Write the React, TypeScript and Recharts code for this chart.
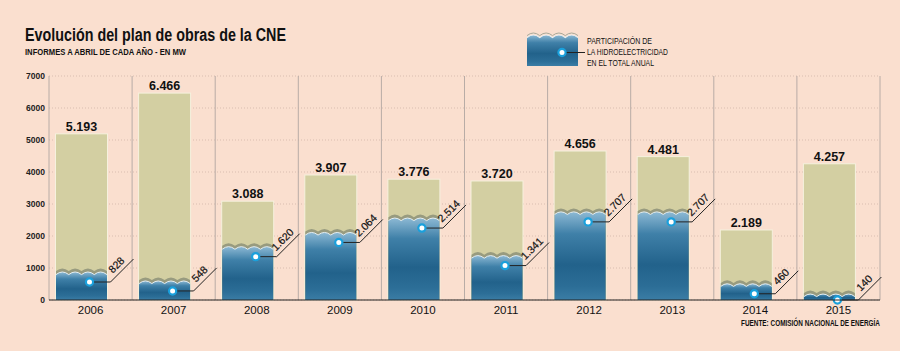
import React from 'react';
import { ComposedChart, Bar, XAxis, YAxis, CartesianGrid } from 'recharts';

const years = ['2006', '2007', '2008', '2009', '2010', '2011', '2012', '2013', '2014', '2015'];
const totals = [5193, 6466, 3088, 3907, 3776, 3720, 4656, 4481, 2189, 4257];
const hydro = [828, 548, 1620, 2064, 2514, 1341, 2707, 2707, 460, 140];
const yTicks = [0, 1000, 2000, 3000, 4000, 5000, 6000, 7000];

const data = years.map((year, i) => ({ year, total: totals[i], hydro: hydro[i] }));

const fmt = (v: number) =>
  v >= 1000 ? `${Math.floor(v / 1000)}.${String(v % 1000).padStart(3, '0')}` : String(v);

const FONT = "'Liberation Sans', Arial, sans-serif";
const BG = '#FADFCF';

const waveLine = (x0: number, w: number, top: number, amp: number, n = 4) => {
  const seg = w / n;
  let d = `M ${x0} ${top + amp}`;
  for (let i = 0; i < n; i++) {
    d += ` Q ${x0 + seg * i + seg / 2} ${top - amp} ${x0 + seg * (i + 1)} ${top + amp}`;
  }
  return d;
};
const wavePath = (x0: number, w: number, top: number, amp: number, bottom: number, n = 4) =>
  `${waveLine(x0, w, top, amp, n)} L ${x0 + w} ${bottom} L ${x0} ${bottom} Z`;

const BarShape = (props: any) => {
  const { x, y, width, height, payload } = props;
  if (!payload) return null;
  const bx = x - 9.5;
  const w = width;
  const base = y + height;
  const k = height / payload.total;
  const hy = base - payload.hydro * k;
  const amp = 2.6;
  const wt = hy - 1.5;
  const dotX = bx + w / 2 + 8;
  const dotY = Math.min(hy + 8.5, base);
  const lx = bx + w + 3;
  const diag = 23;
  const mx = lx + diag / 2 - 3;
  const my = dotY - diag / 2 - 3;
  return (
    <g>
      <rect x={bx} y={y} width={w} height={height} fill="#D3CFA2" stroke="#F6F1DE" strokeWidth={1} />
      <path d={wavePath(bx + 0.5, w - 1, wt - 3.5, amp, base)} fill="#989B7F" />
      <path d={wavePath(bx + 0.5, w - 1, wt, amp, base)} fill="url(#blueGrad)" />
      <path d={waveLine(bx + 0.5, w - 1, wt, amp)} fill="none" stroke="#E4EEF2" strokeWidth={1} />
      <path d={`M ${dotX} ${dotY} H ${lx} L ${lx + diag} ${dotY - diag}`} fill="none" stroke="#222" strokeWidth={1} />
      <circle cx={dotX} cy={dotY} r={3.6} fill="#fff" stroke="#1AA0DC" strokeWidth={2.2} />
      <text
        x={mx}
        y={my}
        transform={`rotate(-45 ${mx} ${my})`}
        textAnchor="middle"
        fontSize={10.5}
        fontFamily={FONT}
        fill="#111"
        stroke="#111"
        strokeWidth={0.2}
      >
        {fmt(payload.hydro)}
      </text>
      <text x={bx + w / 2} y={y - 3} textAnchor="middle" fontSize={12.5} fontWeight="bold" fontFamily={FONT} fill="#111">
        {fmt(payload.total)}
      </text>
    </g>
  );
};

export default function App() {
  return (
    <div style={{ position: 'fixed', left: 0, top: 0, width: 900, height: 351, background: BG, overflow: 'hidden' }}>
      <svg width={0} height={0} style={{ position: 'absolute' }}>
        <defs>
          <linearGradient id="blueGrad" x1="0" y1="0" x2="0" y2="1">
            <stop offset="0%" stopColor="#8DB9D4" />
            <stop offset="25%" stopColor="#3F80A8" />
            <stop offset="60%" stopColor="#22628B" />
            <stop offset="85%" stopColor="#2C6E97" />
            <stop offset="100%" stopColor="#3B7DA5" />
          </linearGradient>
        </defs>
      </svg>
      <ComposedChart width={900} height={351} data={data} margin={{ top: 76, right: 20, bottom: 21, left: 0 }}>
        <CartesianGrid vertical={false} stroke="#D9BDB0" strokeDasharray="1 2" />
        <CartesianGrid
          horizontal={false}
          stroke="#B8ACA6"
          verticalCoordinatesGenerator={({ offset }: any) =>
            Array.from({ length: years.length + 1 }, (_, i) => offset.left + (i * offset.width) / years.length)
          }
        />
        <XAxis
          dataKey="year"
          height={30}
          interval={0}
          axisLine={{ stroke: '#222' }}
          tickLine={false}
          tickSize={0}
          tickMargin={6}
          tick={{ fontSize: 11.5, fill: '#111', fontFamily: FONT }}
        />
        <YAxis
          width={49}
          domain={[0, 7000]}
          ticks={yTicks}
          interval={0}
          axisLine={false}
          tickLine={false}
          tickSize={0}
          tickMargin={4}
          tick={{ fontSize: 8.5, fill: '#222', fontWeight: 'bold', fontFamily: FONT }}
        />
        <Bar dataKey="total" barSize={52} shape={BarShape} isAnimationActive={false} />
      </ComposedChart>
      <svg width={900} height={351} style={{ position: 'absolute', left: 0, top: 0, pointerEvents: 'none' }}>
        <text x={25} y={40.5} fontSize={17.5} fontWeight="bold" fontFamily={FONT} fill="#111" textLength={261} lengthAdjust="spacingAndGlyphs">
          Evolución del plan de obras de la CNE
        </text>
        <text x={25} y={55} fontSize={9.5} fontWeight="bold" fontFamily={FONT} fill="#111" textLength={161} lengthAdjust="spacingAndGlyphs">
          INFORMES A ABRIL DE CADA AÑO - EN MW
        </text>
        {/* legend */}
        <path d={wavePath(527, 51, 35, 2.6, 66)} fill="url(#blueGrad)" />
        <path d={waveLine(527, 51, 35, 2.6)} fill="none" stroke="#E8EEF0" strokeWidth={1.2} />
        <path d={waveLine(527, 51, 33, 2.6)} fill="none" stroke="#A9A99A" strokeWidth={1} />
        <path d="M 562 52.5 H 585" stroke="#222" strokeWidth={1} />
        <circle cx={562} cy={52.5} r={3.6} fill="#fff" stroke="#1AA0DC" strokeWidth={2.2} />
        <text x={587} y={44} fontSize={9} fontFamily={FONT} fill="#111" textLength={65} lengthAdjust="spacingAndGlyphs">
          PARTICIPACIÓN DE
        </text>
        <text x={587} y={55} fontSize={9} fontFamily={FONT} fill="#111" textLength={81} lengthAdjust="spacingAndGlyphs">
          LA HIDROELECTRICIDAD
        </text>
        <text x={587} y={66} fontSize={9} fontFamily={FONT} fill="#111" textLength={67} lengthAdjust="spacingAndGlyphs">
          EN EL TOTAL ANUAL
        </text>
        <text x={741} y={326} fontSize={8.5} fontWeight="bold" fontFamily={FONT} fill="#111" textLength={139} lengthAdjust="spacingAndGlyphs">
          FUENTE: COMISIÓN NACIONAL DE ENERGÍA
        </text>
      </svg>
    </div>
  );
}
